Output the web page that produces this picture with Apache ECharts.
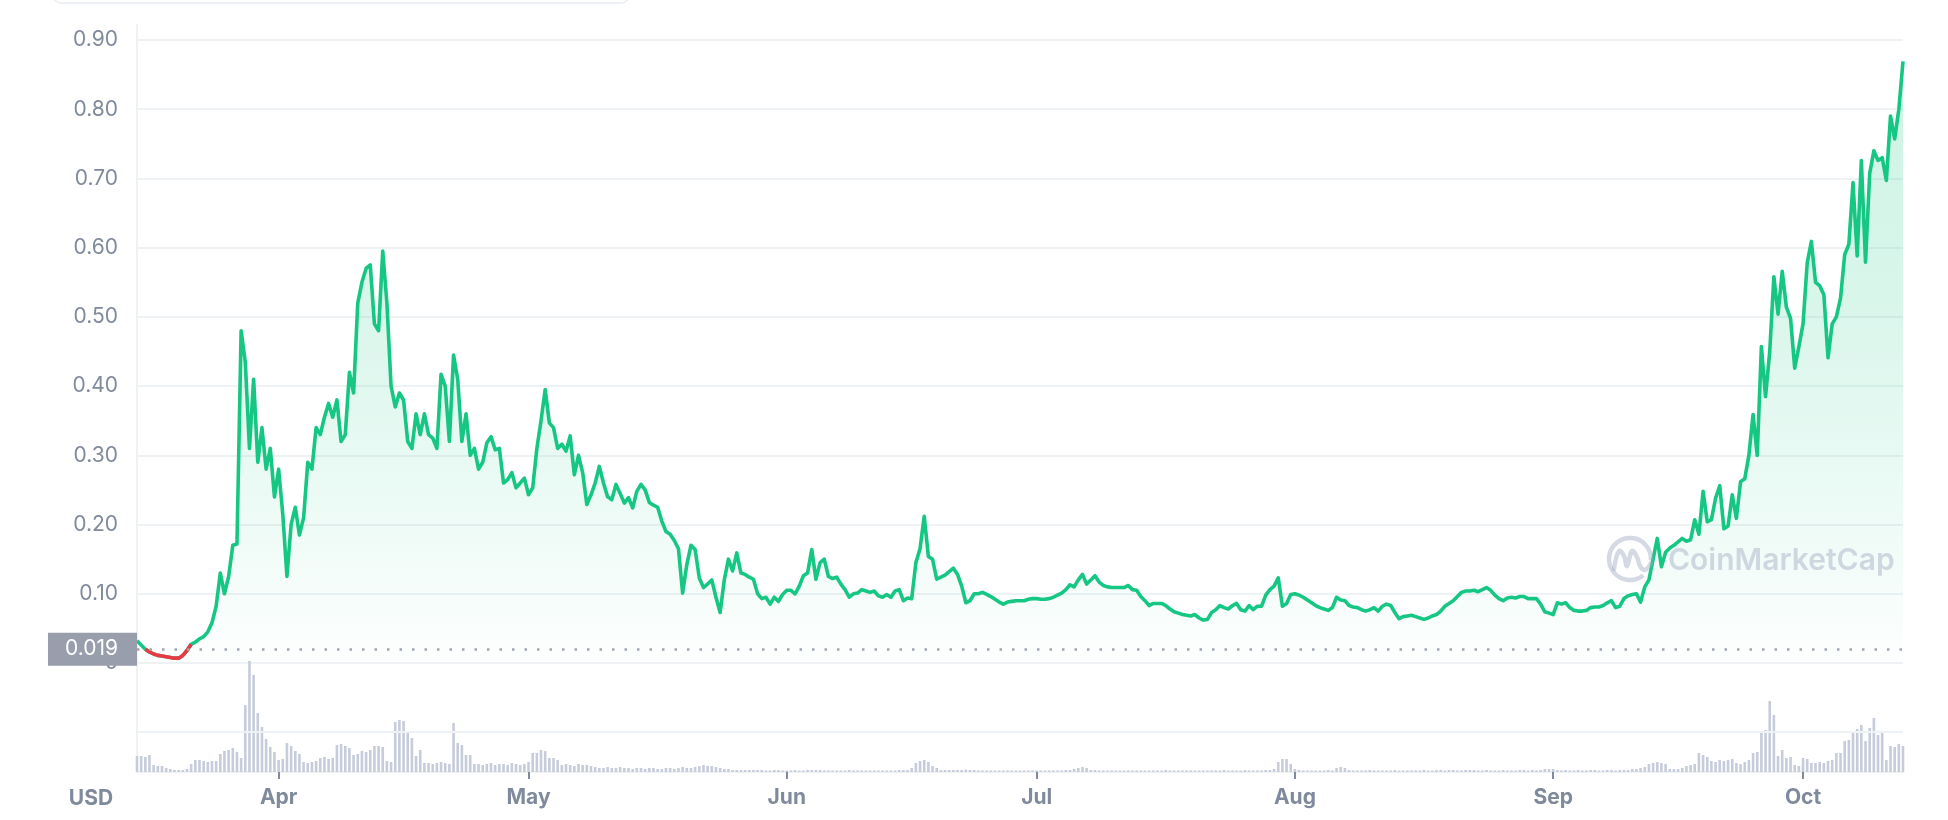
<!DOCTYPE html>
<html><head><meta charset="utf-8">
<script src="https://cdn.jsdelivr.net/npm/echarts@6/dist/echarts.min.js"></script>
<style>html,body{margin:0;padding:0;background:#fff}#c{width:1948px;height:820px}</style>
</head><body><div id="c"></div>
<script>
// ---- data (12-hour samples from 2021-03-15 00:00 to 2021-10-13 00:00) ----
const startUTC = Date.UTC(2021, 2, 15);
const stepHours = 12;
const monthNames = ['Jan','Feb','Mar','Apr','May','Jun','Jul','Aug','Sep','Oct','Nov','Dec'];
const openPrice = 0.019;
const priceMax = 0.9;
const priceStep = 0.1;

const price = [
0.032,0.026,0.020,0.016,0.013,0.011,0.010,0.009,0.008,0.007,
0.007,0.011,0.018,0.027,0.030,0.035,0.038,0.045,0.058,0.082,
0.130,0.100,0.125,0.170,0.172,0.480,0.435,0.310,0.410,0.290,
0.340,0.280,0.310,0.240,0.280,0.215,0.125,0.200,0.225,0.185,
0.210,0.290,0.280,0.340,0.330,0.355,0.375,0.355,0.380,0.320,
0.330,0.420,0.390,0.520,0.550,0.570,0.575,0.490,0.480,0.595,
0.520,0.400,0.370,0.390,0.380,0.320,0.310,0.360,0.330,0.360,
0.330,0.325,0.310,0.417,0.400,0.320,0.445,0.410,0.320,0.360,
0.300,0.310,0.280,0.290,0.318,0.327,0.308,0.310,0.260,0.265,
0.275,0.253,0.260,0.267,0.243,0.253,0.310,0.350,0.395,0.347,
0.340,0.310,0.316,0.306,0.328,0.272,0.300,0.275,0.229,0.243,
0.260,0.284,0.260,0.240,0.236,0.258,0.245,0.231,0.239,0.224,
0.248,0.258,0.250,0.232,0.228,0.225,0.205,0.190,0.186,0.177,
0.165,0.101,0.142,0.170,0.164,0.123,0.109,0.114,0.120,0.095,
0.073,0.120,0.150,0.133,0.159,0.130,0.128,0.124,0.121,0.100,
0.093,0.095,0.085,0.095,0.089,0.099,0.105,0.105,0.100,0.111,
0.126,0.130,0.164,0.121,0.145,0.150,0.125,0.122,0.124,0.114,
0.106,0.095,0.100,0.101,0.106,0.104,0.102,0.104,0.097,0.095,
0.099,0.095,0.104,0.106,0.090,0.094,0.093,0.145,0.165,0.212,
0.154,0.150,0.121,0.124,0.127,0.132,0.137,0.128,0.111,0.087,
0.090,0.100,0.100,0.102,0.099,0.096,0.092,0.088,0.085,0.088,
0.089,0.090,0.090,0.090,0.092,0.093,0.093,0.092,0.092,0.093,
0.095,0.098,0.101,0.106,0.113,0.110,0.120,0.128,0.114,0.120,
0.126,0.117,0.112,0.110,0.109,0.109,0.109,0.109,0.112,0.106,
0.105,0.096,0.090,0.083,0.086,0.086,0.086,0.083,0.078,0.074,
0.072,0.070,0.069,0.068,0.070,0.065,0.062,0.063,0.073,0.077,
0.083,0.080,0.078,0.083,0.086,0.077,0.075,0.083,0.077,0.082,
0.082,0.098,0.106,0.111,0.123,0.082,0.086,0.099,0.100,0.098,
0.095,0.091,0.087,0.083,0.080,0.078,0.076,0.080,0.095,0.091,
0.090,0.083,0.081,0.080,0.077,0.075,0.077,0.080,0.075,0.082,
0.085,0.083,0.073,0.064,0.067,0.068,0.069,0.067,0.065,0.063,
0.065,0.068,0.070,0.075,0.082,0.086,0.090,0.096,0.102,0.104,
0.104,0.105,0.103,0.106,0.109,0.105,0.098,0.093,0.090,0.094,
0.095,0.094,0.096,0.096,0.093,0.093,0.093,0.085,0.074,0.072,
0.070,0.087,0.085,0.087,0.080,0.076,0.075,0.075,0.076,0.080,
0.081,0.081,0.083,0.087,0.090,0.080,0.082,0.093,0.097,0.099,
0.100,0.088,0.110,0.120,0.150,0.180,0.139,0.160,0.166,0.170,
0.175,0.180,0.176,0.178,0.207,0.186,0.248,0.204,0.207,0.238,
0.256,0.194,0.198,0.243,0.209,0.262,0.266,0.300,0.359,0.300,
0.457,0.385,0.450,0.558,0.504,0.566,0.514,0.498,0.426,0.457,
0.490,0.578,0.609,0.550,0.545,0.532,0.441,0.490,0.500,0.527,
0.590,0.605,0.694,0.588,0.726,0.579,0.707,0.740,0.726,0.730,
0.697,0.790,0.757,0.800,0.869
];

// relative trading volume (arbitrary units)
const volume = [
16,16,15,17,7,6,6,4,3,2,
2,2,3,8,12,12,11,10,11,11,
18,21,22,24,20,14,67,111,97,59,
45,33,25,20,12,13,29,26,21,18,
10,9,10,11,14,15,13,14,27,28,
26,24,17,18,21,20,22,26,26,25,
11,10,50,52,51,40,34,16,22,9,
9,8,9,10,9,8,49,29,27,17,
17,8,8,7,8,9,7,8,8,7,
9,8,7,8,10,19,19,22,21,14,
14,12,7,8,7,6,8,7,7,6,
5,4,4,5,4,4,5,4,4,3,
4,4,3,4,4,3,3,4,4,3,
4,5,4,4,5,6,7,6,6,5,
4,3,3,2,2,2,2,2,2,2,
2,1.5,1.5,2,2,1.5,1.5,1.5,2,1.5,
1.5,2,2,2,2,1.5,1.5,1.5,1.5,1.5,
1.5,2,1.5,1.5,1.5,1.5,1.5,1.5,1.5,1.5,
1.5,1.5,1.5,2,2,2,4,9,11,12,
10,6,4,2,2,2,2,2,2,2.5,
2,2,1.5,1.5,1.5,1.5,1.5,1.5,1.5,1.5,
1.5,1.5,1.5,1.5,1.5,1.5,1.5,1.5,1.5,1.5,
1.5,1.5,1.5,2,2,3,4,5,4,2,
2,1.5,1.5,1.5,1.5,1.5,1.5,1.5,1.5,1.5,
1.5,1.5,1.5,1.5,1.5,1.5,1.5,2,1.5,1.5,
1.5,1.5,1.5,1.5,1.5,1.5,1.5,1.5,1.5,1.5,
1.5,2,1.5,1.5,1.5,1.5,2,1.5,1.5,1.5,
1.5,2,2,3,10,13,13,8,3,2,
1.5,1.5,1.5,1.5,1.5,1.5,2,1.5,4,5,
4,2,1.5,1.5,1.5,1.5,2,1.5,1.5,1.5,
1.5,1.5,2,1.5,1.5,1.5,1.5,1.5,1.5,2,
1.5,1.5,2,2,1.5,2,2,1.5,1.5,2,
2,2,1.5,1.5,2,1.5,1.5,1.5,2,1.5,
1.5,1.5,2,2,1.5,2,1.5,2,3,3,
3,2,1.5,2,1.5,1.5,2,1.5,1.5,2,
2,1.5,1.5,2,2,1.5,2,2,2,3,
3,4,5,8,9,10,9,8,3,3,
3,4,6,7,8,19,17,15,11,10,
12,11,12,13,9,8,10,12,19,20,
39,42,71,57,16,22,14,15,7,6,
14,13,9,9,10,9,11,12,19,19,
31,32,41,43,47,31,44,54,37,39,
12,26,25,28,26
];

// ---- build ----
const categories = price.map((_, i) =>
  new Date(startUTC + i * stepHours * 3600e3).toISOString().slice(0, 13));
const isMonthStart = (idx, val) => val.slice(8) === '01T00';
// portion of the price line below the opening price (shown in red)
const priceBelow = price.map((v, i) => {
  const prev = price[i - 1], next = price[i + 1];
  return (v < openPrice || (prev !== undefined && prev < openPrice) || (next !== undefined && next < openPrice)) ? v : null;
});

const FONT = 'Inter, "Noto Sans", sans-serif';
const AXIS_GREY = '#808A9D';
const GRID_LINE = '#EFF2F5';
const WM = 'rgba(160,170,196,0.45)';

const chart = echarts.init(document.getElementById('c'), null, {renderer: 'canvas'});
chart.setOption({
  animation: false,
  backgroundColor: '#ffffff',
  grid: [
    {left: 137, width: 1766, top: 40, height: 623},
    {left: 137, width: 1766, top: 660, height: 112}
  ],
  xAxis: [
    {type: 'category', gridIndex: 0, data: categories, boundaryGap: false,
     axisLine: {show: false}, axisTick: {show: false}, axisLabel: {show: false}, splitLine: {show: false}},
    {type: 'category', gridIndex: 1, data: categories, boundaryGap: false,
     axisLine: {show: true, lineStyle: {color: GRID_LINE, width: 2}},
     axisTick: {show: true, interval: isMonthStart, length: 7, lineStyle: {color: AXIS_GREY, width: 2}},
     axisLabel: {show: true, interval: isMonthStart, margin: 15,
       formatter: v => monthNames[+v.slice(5, 7) - 1],
       color: AXIS_GREY, fontFamily: FONT, fontSize: 21, fontWeight: 'bold'},
     splitLine: {show: false}}
  ],
  yAxis: [
    {type: 'value', gridIndex: 0, min: 0, max: priceMax, interval: priceStep,
     axisLine: {show: true, lineStyle: {color: GRID_LINE, width: 2}},
     axisTick: {show: false},
     axisLabel: {color: AXIS_GREY, fontFamily: FONT, fontSize: 21, margin: 19,
       formatter: v => v === 0 ? '0' : v.toFixed(2)},
     splitLine: {show: true, lineStyle: {color: GRID_LINE, width: 2}}},
    {type: 'value', gridIndex: 1, min: 0, max: 112,
     axisLine: {show: true, lineStyle: {color: GRID_LINE, width: 2}},
     axisTick: {show: false}, axisLabel: {show: false}, splitLine: {show: false}}
  ],
  series: [
    {
      type: 'line', xAxisIndex: 0, yAxisIndex: 0, data: price,
      showSymbol: false, symbol: 'none', smooth: false,
      lineStyle: {width: 3.6, join: 'round', color: '#16C784'},
      itemStyle: {color: '#16C784'},
      areaStyle: {color: new echarts.graphic.LinearGradient(0, 0, 0, 1, [
        {offset: 0, color: 'rgba(22,199,132,0.30)'},
        {offset: 0.4, color: 'rgba(22,199,132,0.23)'},
        {offset: 0.75, color: 'rgba(22,199,132,0.11)'},
        {offset: 0.9, color: 'rgba(22,199,132,0.05)'},
        {offset: 1, color: 'rgba(22,199,132,0.01)'}
      ])},
      markLine: {
        silent: true, symbol: 'none', animation: false,
        data: [{yAxis: openPrice}],
        lineStyle: {type: [2.5, 10], width: 2.5, color: '#A0A6B1'},
        label: {show: true, position: 'start', distance: 0, formatter: '0.019',
          color: '#ffffff', backgroundColor: '#989EAB', fontFamily: FONT, fontSize: 21,
          lineHeight: 21, padding: [6, 19, 6, 17]}
      },
      z: 3
    },
    {
      type: 'line', xAxisIndex: 0, yAxisIndex: 0, data: priceBelow,
      showSymbol: false, symbol: 'none', connectNulls: false,
      lineStyle: {width: 3.6, join: 'round', color: '#EA3943'},
      itemStyle: {color: '#EA3943'},
      z: 4
    },
    {
      type: 'bar', xAxisIndex: 1, yAxisIndex: 1, data: volume,
      barWidth: 2.6, itemStyle: {color: '#C6CCDA'},
      markLine: {
        silent: true, symbol: 'none', animation: false,
        data: [{yAxis: 40}],
        lineStyle: {type: 'solid', width: 2, color: GRID_LINE},
        label: {show: false}
      },
      z: 1
    }
  ],
  graphic: [
    {type: 'rect', shape: {x: 53, y: -40, width: 576, height: 43, r: 8},
     style: {fill: '#ffffff', stroke: '#EDF0F4', lineWidth: 2}, silent: true},
    {type: 'line', shape: {x1: 137, y1: 24, x2: 137, y2: 41},
     style: {stroke: GRID_LINE, lineWidth: 2}, silent: true},
    {type: 'text', x: 91, y: 799, silent: true,
     style: {text: 'USD', font: 'bold 21px ' + FONT, fill: AXIS_GREY,
       textAlign: 'center', textVerticalAlign: 'middle', align: 'center', verticalAlign: 'middle'}},
    {type: 'arc', shape: {cx: 1630, cy: 559, r: 21, startAngle: Math.PI * 0.28, endAngle: Math.PI * 2.02, clockwise: true},
     style: {fill: 'none', stroke: WM, lineWidth: 4.5}, silent: true, z: 10},
    {type: 'polyline', silent: true, z: 10,
     shape: {points: [[1614,569],[1619,551],[1624,556],[1627,566],[1632,551],[1637,557],[1640,566],[1645,570],[1651,563]], smooth: 0.4},
     style: {fill: 'none', stroke: WM, lineWidth: 4.5, lineCap: 'round', lineJoin: 'round'}},
    {type: 'text', x: 1668, y: 561, silent: true, z: 10,
     style: {text: 'CoinMarketCap', font: '600 30px ' + FONT, fill: WM,
       textAlign: 'left', textVerticalAlign: 'middle', align: 'left', verticalAlign: 'middle'}}
  ]
});
</script></body></html>
